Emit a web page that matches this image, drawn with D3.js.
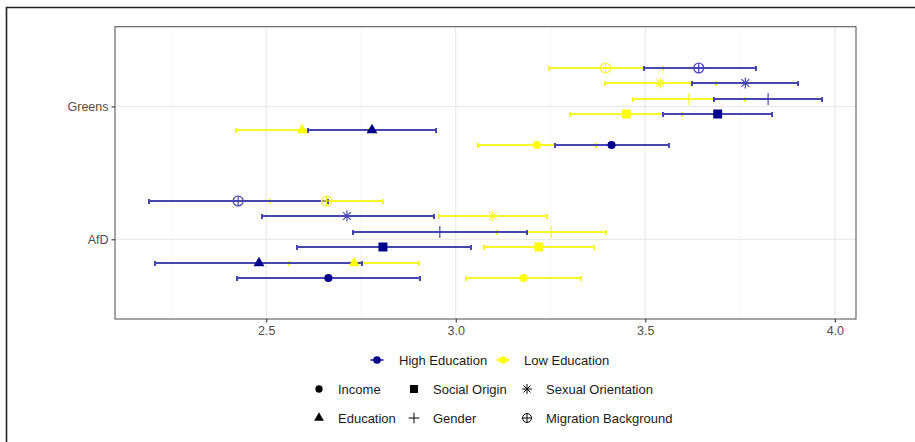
<!DOCTYPE html>
<html>
<head>
<meta charset="utf-8">
<script src="https://cdn.jsdelivr.net/npm/d3@7"></script>
<style>
	body { margin: 0; background: #fff; }
	svg { display: block; font-family: 'Liberation Sans', Arial, sans-serif; }
</style>
</head>
<body>
<div id="chart"></div>
<script>
// parties on the y axis, discrimination types dodged within each party
const parties = ['Greens', 'AfD']
const types = ['Income', 'Education', 'Social Origin', 'Gender', 'Sexual Orientation', 'Migration Background']
const levels = ['High Education', 'Low Education']

// estimates and interval bounds, same order as types
const greensHighEst = [3.411, 2.779, 3.691, 3.824, 3.764, 3.641]
const greensHighLo = [3.261, 2.609, 3.548, 3.682, 3.623, 3.496]
const greensHighHi = [3.562, 2.947, 3.834, 3.967, 3.904, 3.791]
const greensLowEst = [3.214, 2.595, 3.450, 3.615, 3.540, 3.395]
const greensLowLo = [3.059, 2.420, 3.302, 3.467, 3.395, 3.245]
const greensLowHi = [3.369, 2.770, 3.598, 3.764, 3.687, 3.548]
const afdHighEst = [2.664, 2.481, 2.808, 2.958, 2.713, 2.426]
const afdHighLo = [2.423, 2.207, 2.580, 2.729, 2.488, 2.190]
const afdHighHi = [2.907, 2.753, 3.040, 3.189, 2.942, 2.663]
const afdLowEst = [3.179, 2.732, 3.219, 3.252, 3.098, 2.659]
const afdLowLo = [3.028, 2.561, 3.075, 3.110, 2.957, 2.511]
const afdLowHi = [3.330, 2.903, 3.364, 3.397, 3.241, 2.808]

const xTicks = [2.5, 3.0, 3.5, 4.0]
const xMinor = [2.25, 2.75, 3.25, 3.75]

const table = []
const add = (party, level, est, lo, hi) =>
	types.forEach((t, i) => table.push({ party, level, type: t, est: est[i], lo: lo[i], hi: hi[i] }))
add('Greens', 'Low Education', greensLowEst, greensLowLo, greensLowHi)
add('AfD', 'Low Education', afdLowEst, afdLowLo, afdLowHi)
add('Greens', 'High Education', greensHighEst, greensHighLo, greensHighHi)
add('AfD', 'High Education', afdHighEst, afdHighLo, afdHighHi)

const width = 915
const height = 442
const panel = { left: 115, right: 856, top: 26.7, bottom: 319 }

const svg = d3.select('#chart')
	.append('svg')
	.attr('width', width)
	.attr('height', height)

// outer frame (only top and left edges are in view)
svg.append('path')
	.attr('d', `M6.5,${height}V7.5H${width}`)
	.attr('fill', 'none')
	.attr('stroke', '#222')
	.attr('stroke-width', 1.6)

// ggplot style 5% expansion of the data range
const xmin = d3.min(table, d => d.lo)
const xmax = d3.max(table, d => d.hi)
const pad = (xmax - xmin) * 0.05
const x = d3.scaleLinear()
	.domain([xmin - pad, xmax + pad])
	.range([panel.left, panel.right])

const y = d3.scalePoint()
	.domain(parties)
	.range([panel.top, panel.bottom])
	.padding(0.6)

// dodge, top row is the last type
const dodge = d3.scalePoint()
	.domain(types.slice().reverse())
	.range([-y.step() * 0.35, y.step() * 0.35])
	.padding(0.5)

const color = d3.scaleOrdinal()
	.domain(levels)
	.range(['#00008b', '#ffff00'])
// error bar colours (lines are drawn semi transparent in the original)
const lineColor = d3.scaleOrdinal()
	.domain(levels)
	.range(['#4646b0', '#f6f62a'])

// stroked point shapes
const plus = {
	draw(ctx, size) {
		const r = Math.sqrt(size) / 2
		ctx.moveTo(-r, 0); ctx.lineTo(r, 0)
		ctx.moveTo(0, -r); ctx.lineTo(0, r)
	}
}
const asterisk = {
	draw(ctx, size) {
		const r = Math.sqrt(size) / 2
		const d = r * Math.SQRT1_2
		ctx.moveTo(-r, 0); ctx.lineTo(r, 0)
		ctx.moveTo(0, -r); ctx.lineTo(0, r)
		ctx.moveTo(-d, -d); ctx.lineTo(d, d)
		ctx.moveTo(-d, d); ctx.lineTo(d, -d)
	}
}
const circlePlus = {
	draw(ctx, size) {
		const r = Math.sqrt(size) / 2
		ctx.moveTo(r, 0); ctx.arc(0, 0, r, 0, 2 * Math.PI)
		ctx.moveTo(-r, 0); ctx.lineTo(r, 0)
		ctx.moveTo(0, -r); ctx.lineTo(0, r)
	}
}
const shapes = {
	'Income': { type: d3.symbolCircle, size: 52, fill: true },
	'Education': { type: d3.symbolTriangle, size: 52, fill: true },
	'Social Origin': { type: d3.symbolSquare, size: 80, fill: true },
	'Gender': { type: plus, size: 144, fill: false },
	'Sexual Orientation': { type: asterisk, size: 121, fill: false },
	'Migration Background': { type: circlePlus, size: 100, fill: false }
}
const symbolPath = (t, scale = 1) => d3.symbol().type(shapes[t].type).size(shapes[t].size * scale)()

const g = svg.append('g')

// grid
g.selectAll('line.minor')
	.data(xMinor)
	.join('line')
	.attr('class', 'minor')
	.attr('x1', d => x(d)).attr('x2', d => x(d))
	.attr('y1', panel.top).attr('y2', panel.bottom)
	.attr('stroke', '#f2f2f2').attr('stroke-width', 0.7)
g.selectAll('line.major')
	.data(xTicks)
	.join('line')
	.attr('class', 'major')
	.attr('x1', d => x(d)).attr('x2', d => x(d))
	.attr('y1', panel.top).attr('y2', panel.bottom)
	.attr('stroke', '#ebebeb').attr('stroke-width', 1.3)
g.selectAll('line.ymajor')
	.data(parties)
	.join('line')
	.attr('class', 'ymajor')
	.attr('x1', panel.left).attr('x2', panel.right)
	.attr('y1', d => y(d)).attr('y2', d => y(d))
	.attr('stroke', '#ebebeb').attr('stroke-width', 1.3)

// row centre, snapped so the 2px bar lines sit on whole pixels
const rowY = d => Math.round(y(d.party) + dodge(d.type))

// error bars: one path per interval, horizontal line plus end caps
g.selectAll('path.bar')
	.data(table)
	.join('path')
	.attr('class', 'bar')
	.attr('d', d => {
		const a = x(d.lo), b = x(d.hi), c = rowY(d)
		return `M${a},${c}H${b}M${a},${c - 2.5}V${c + 2.5}M${b},${c - 2.5}V${c + 2.5}`
	})
	.attr('fill', 'none')
	.attr('stroke', d => lineColor(d.level))
	.attr('stroke-width', 2)
	.attr('shape-rendering', 'crispEdges')

// points
g.selectAll('path.pt')
	.data(table)
	.join('path')
	.attr('class', 'pt')
	.attr('transform', d => `translate(${x(d.est)},${rowY(d)})`)
	.attr('d', d => symbolPath(d.type))
	.attr('fill', d => shapes[d.type].fill ? color(d.level) : 'none')
	.attr('stroke', d => shapes[d.type].fill ? 'none' : lineColor(d.level))
	.attr('stroke-width', 1.2)

// panel border
svg.append('rect')
	.attr('x', panel.left).attr('y', panel.top)
	.attr('width', panel.right - panel.left)
	.attr('height', panel.bottom - panel.top)
	.attr('fill', 'none')
	.attr('stroke', '#5a5a5a')
	.attr('stroke-width', 1.1)

// axes
const xAxis = svg.append('g')
	.attr('transform', `translate(0,${panel.bottom})`)
	.call(d3.axisBottom(x).tickValues(xTicks).tickFormat(d3.format('.1f')).tickSize(3.5).tickPadding(4))
const yAxis = svg.append('g')
	.attr('transform', `translate(${panel.left},0)`)
	.call(d3.axisLeft(y).tickSize(3.5).tickPadding(3))
for (const ax of [xAxis, yAxis]) {
	ax.select('.domain').remove()
	ax.selectAll('line').attr('stroke', '#333').attr('stroke-width', 1.1)
	ax.selectAll('text')
		.attr('fill', '#4d4d4d')
		.style('font-size', '12.5px')
		.style('font-family', "'Liberation Sans', Arial, sans-serif")
}

// colour legend
const legend = svg.append('g').style('font-size', '13px').attr('fill', '#1a1a1a')
const colKeys = [
	{ level: 'High Education', x: 377, tx: 399 },
	{ level: 'Low Education', x: 503, tx: 524 }
]
colKeys.forEach(k => {
	legend.append('line')
		.attr('x1', k.x - 6.5).attr('x2', k.x + 6.5)
		.attr('y1', 360).attr('y2', 360)
		.attr('stroke', lineColor(k.level)).attr('stroke-width', 2)
	legend.append('circle')
		.attr('cx', k.x).attr('cy', 360).attr('r', 3.8)
		.attr('fill', color(k.level))
	legend.append('text')
		.attr('x', k.tx).attr('y', 360).attr('dy', '0.35em')
		.text(k.level)
})

// shape legend, filled by column
const shapeCols = [319, 414, 527]
const shapeRows = [389, 418]
types.forEach((t, i) => {
	const cx = shapeCols[Math.floor(i / 2)]
	const cy = shapeRows[i % 2]
	legend.append('path')
		.attr('transform', `translate(${cx},${cy})`)
		.attr('d', symbolPath(t, 0.8))
		.attr('fill', shapes[t].fill ? '#000' : 'none')
		.attr('stroke', shapes[t].fill ? 'none' : '#000')
		.attr('stroke-width', 1)
	legend.append('text')
		.attr('x', cx + 19).attr('y', cy).attr('dy', '0.35em')
		.text(t)
})
</script>
</body>
</html>
